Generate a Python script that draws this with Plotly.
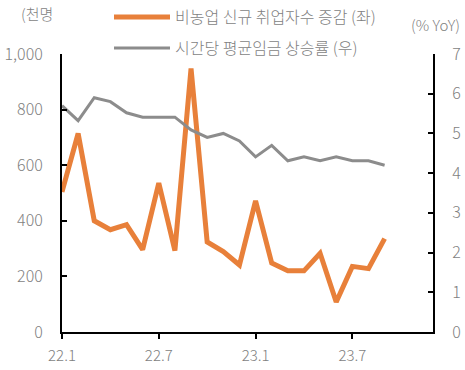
import plotly.graph_objects as go

months = ["22.1","22.2","22.3","22.4","22.5","22.6","22.7","22.8","22.9","22.10","22.11","22.12",
          "23.1","23.2","23.3","23.4","23.5","23.6","23.7","23.8","23.9"]
payrolls = [504, 714, 400, 368, 386, 296, 536, 293, 948, 324, 289, 241,
            472, 248, 220, 220, 283, 108, 236, 228, 336]
wage_growth = [5.70, 5.32, 5.90, 5.80, 5.52, 5.41, 5.41, 5.41, 5.09, 4.90, 5.00, 4.81,
               4.41, 4.70, 4.31, 4.41, 4.31, 4.41, 4.31, 4.31, 4.20]
tick_labels = ["22.1", "22.7", "23.1", "23.7"]
tick_idx = [0, 6, 12, 18]

xs = list(range(len(months)))
FONT = "Noto Sans CJK KR"
GRAY_TXT = "#7f7f7f"
WT = 300

fig = go.Figure()
fig.add_trace(go.Scatter(x=xs, y=payrolls, mode="lines", name="비농업 신규 취업자수 증감 (좌)",
                         line=dict(color="#E8803A", width=5), legend="legend", showlegend=True))
fig.add_trace(go.Scatter(x=xs, y=wage_growth, mode="lines", name="시간당 평균임금 상승률 (우)",
                         line=dict(color="#8C8C8C", width=3), yaxis="y2", legend="legend2",
                         showlegend=True))

W, H = 465, 370
L, R, T, B = 62, 32, 54, 38
pw, ph = W - L - R, H - T - B

def px(x):
    return (x - L) / pw

def py(y):
    return (H - B - y) / ph

legfont = dict(family=FONT, size=16, color=GRAY_TXT, weight=WT)
fig.update_layout(
    width=W, height=H,
    showlegend=True,
    margin=dict(l=L, r=R, t=T, b=B, autoexpand=False),
    paper_bgcolor="white", plot_bgcolor="white",
    font=dict(family=FONT, color=GRAY_TXT, size=16, weight=WT),
    legend=dict(xref="container", yref="container", x=109 / W, y=1 - 17 / H,
                xanchor="left", yanchor="middle", font=legfont,
                bgcolor="rgba(0,0,0,0)", itemwidth=56),
    legend2=dict(xref="container", yref="container", x=109 / W, y=1 - 48 / H,
                 xanchor="left", yanchor="middle", font=legfont,
                 bgcolor="rgba(0,0,0,0)", itemwidth=56),
    xaxis=dict(range=[0, 23], tickvals=tick_idx, ticktext=tick_labels, showgrid=False, zeroline=False,
               showline=True, linecolor="black", linewidth=2, ticks="outside", ticklen=5,
               tickcolor="black", tickwidth=2, ticklabelstandoff=4,
               tickfont=dict(family=FONT, size=15, color=GRAY_TXT, weight=WT)),
    yaxis=dict(range=[0, 1000], dtick=200, tickformat=",", showgrid=False, zeroline=False,
               showline=True, linecolor="black", linewidth=2, ticks="inside", ticklen=5,
               tickcolor="black", tickwidth=2, ticklabelstandoff=14,
               tickfont=dict(family=FONT, size=16, color=GRAY_TXT, weight=WT)),
    yaxis2=dict(range=[0, 7], dtick=1, overlaying="y", side="right", showgrid=False, zeroline=False,
                showline=True, linecolor="black", linewidth=2, ticks="inside", ticklen=5,
                tickcolor="black", tickwidth=2, ticklabelstandoff=14,
                tickfont=dict(family=FONT, size=16, color=GRAY_TXT, weight=WT)),
    annotations=[
        dict(text="(천명", x=px(19), y=py(13), xref="paper", yref="paper", xanchor="left",
             yanchor="middle", showarrow=False,
             font=dict(family=FONT, size=15, color=GRAY_TXT, weight=WT)),
        dict(text="(% YoY)", x=px(462), y=py(25), xref="paper", yref="paper", xanchor="right",
             yanchor="middle", showarrow=False,
             font=dict(family=FONT, size=15, color=GRAY_TXT, weight=WT)),
    ],
)

fig.write_html("out.html", config={"displayModeBar": False},
               post_script="document.body.style.margin='0';")
